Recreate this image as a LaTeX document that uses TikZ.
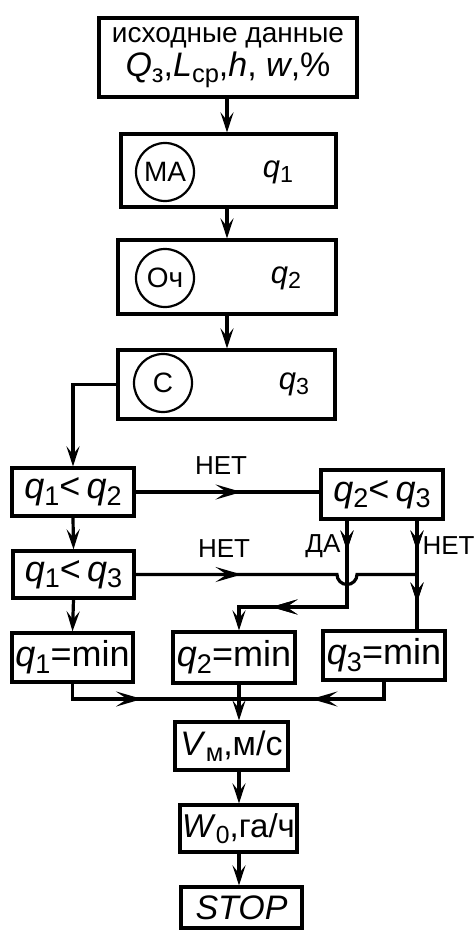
\documentclass[tikz,border=0pt]{standalone}
\usepackage{fontspec}
\setmainfont{Liberation Sans}
\usetikzlibrary{arrows.meta,decorations.markings,calc}

% lowered, reduced index
\newcommand\lo[1]{\raisebox{-0.35ex}{\scalebox{0.75}{#1}}}
\newcommand\fs[1]{\fontsize{#1}{#1}\selectfont}
\newcommand\qi[1]{\textit{q}\lo{#1}}

\begin{document}
\begin{tikzpicture}[x=1pt,y=-1pt,
  line width=3.2pt,
  smalltip/.tip={Stealth[length=20pt,width=13pt,inset=8pt]},
  widetip/.tip={Stealth[length=26pt,width=15pt,inset=11pt]},
  >=smalltip,
  blk/.style 2 args={draw,line width=3.2pt,minimum width=#1,minimum height=#2,inner sep=0pt},
  circ/.style={draw,circle,line width=2.2pt,minimum size=58pt,inner sep=0pt,font=\fs{28}},
  lbl/.style={font=\fs{26},inner sep=0pt},
  midtip/.style={postaction={decorate},decoration={markings,mark=at position #1 with {\arrow{smalltip}}}},
  bigtip/.style={postaction={decorate},decoration={markings,mark=at position #1 with {\arrow{widetip}}}}]
\useasboundingbox (0,0) rectangle (476,931);

% process blocks
\node[blk={258pt}{79pt},align=center] (inp) at (228,57.5)
  {\fs{28}исходные данные\\[3pt]\fs{34}\textit{Q}\lo{з},\textit{L}\lo{ср},\textit{h}, \textit{w},\%};
\node[blk={215pt}{73pt}] (ma) at (228.5,170.5) {};
\node[blk={218pt}{74pt}] (och) at (227,277) {};
\node[blk={217pt}{69pt}] (cs) at (226.5,384.5) {};
\node[circ] (cma) at (165,172) {МА};
\node[circ] (coch) at (165,278) {Оч};
\node[circ] (ccs) at (163,383) {С};
\node[font=\fs{31}] (q1) at (278,172) {\qi{1}};
\node[font=\fs{31}] (q2) at (286,278) {\qi{2}};
\node[font=\fs{31}] (q3) at (294,384) {\qi{3}};

% comparisons
\node[blk={122pt}{48pt},font=\fs{36}] (c12) at (73,492) {\qi{1}<\,\qi{2}};
\node[blk={121pt}{47pt},font=\fs{36}] (c13) at (73.5,574.5) {\qi{1}<\,\qi{3}};
\node[blk={122pt}{49pt},font=\fs{36}] (c23) at (382,494.5) {\qi{2}<\,\qi{3}};

% minimum selection
\node[blk={121pt}{49pt},font=\fs{36}] (m1) at (72.5,657.5) {\qi{1}=min};
\node[blk={122pt}{51pt},font=\fs{36}] (m2) at (234,657.5) {\qi{2}=min};
\node[blk={122pt}{49pt},font=\fs{36}] (m3) at (384,655.5) {\qi{3}=min};

% results
\node[blk={113pt}{48pt},font=\fs{34}] (vm) at (231.5,746) {\textit{V}\lo{м},м/с};
\node[blk={117pt}{47pt},font=\fs{33}] (w0) at (238.5,828.5) {\textit{W}\lo{0},га/ч};
\node[blk={121pt}{41pt},font=\fs{34}] (stop) at (241.5,907.5) {\textit{STOP}};

% line positions
\coordinate (xa) at (227,0);
\coordinate (xm) at (239,0);
\coordinate (da) at (347,0);
\coordinate (net) at (417,0);
\coordinate (yb) at (0,607);
\coordinate (yj) at (0,699);

% main spine
\draw[->] (inp.south -| xa) -- (ma.north -| xa);
\draw[->] (ma.south -| xa) -- (och.north -| xa);
\draw[->] (och.south -| xa) -- (cs.north -| xa);
\draw[->] (cs.west) -| (c12.north);
\draw[->] (c12.south) -- (c13.north);
\draw[->] (c13.south) -- (m1.north);

% branches
\draw[bigtip=106pt] (c12.east) -- (c12.east -| c23.west);
\draw[bigtip=106pt] (c13.east) -- ($(da |- c13.east)+(-10,0)$)
  arc[start angle=180,end angle=360,radius=10pt] -- (c13.east -| net);
\draw[->,midtip=30pt,bigtip=162pt] (c23.south -| da) -- (da |- yb) -| (m2.north -| xm);
\draw[midtip=30pt,midtip=82pt] (c23.south -| net) -- (m3.north -| net);

% merge
\draw[bigtip=85pt] (m1.south) |- (xm |- yj);
\draw[bigtip=90pt] (m3.south) |- (xm |- yj);
\draw[->] (m2.south -| xm) -- (vm.north -| xm);
\draw[->] (vm.south -| xm) -- (w0.north -| xm);
\draw[->] (w0.south -| xm) -- (stop.north -| xm);

% branch labels
\node[lbl] (l1) at (221,466) {НЕТ};
\node[lbl] (l2) at (224,549) {НЕТ};
\node[lbl,anchor=east] (l3) at (342,546) {ДА};
\node[lbl,anchor=west] (l4) at (421,546) {НЕТ};
\end{tikzpicture}
\end{document}
